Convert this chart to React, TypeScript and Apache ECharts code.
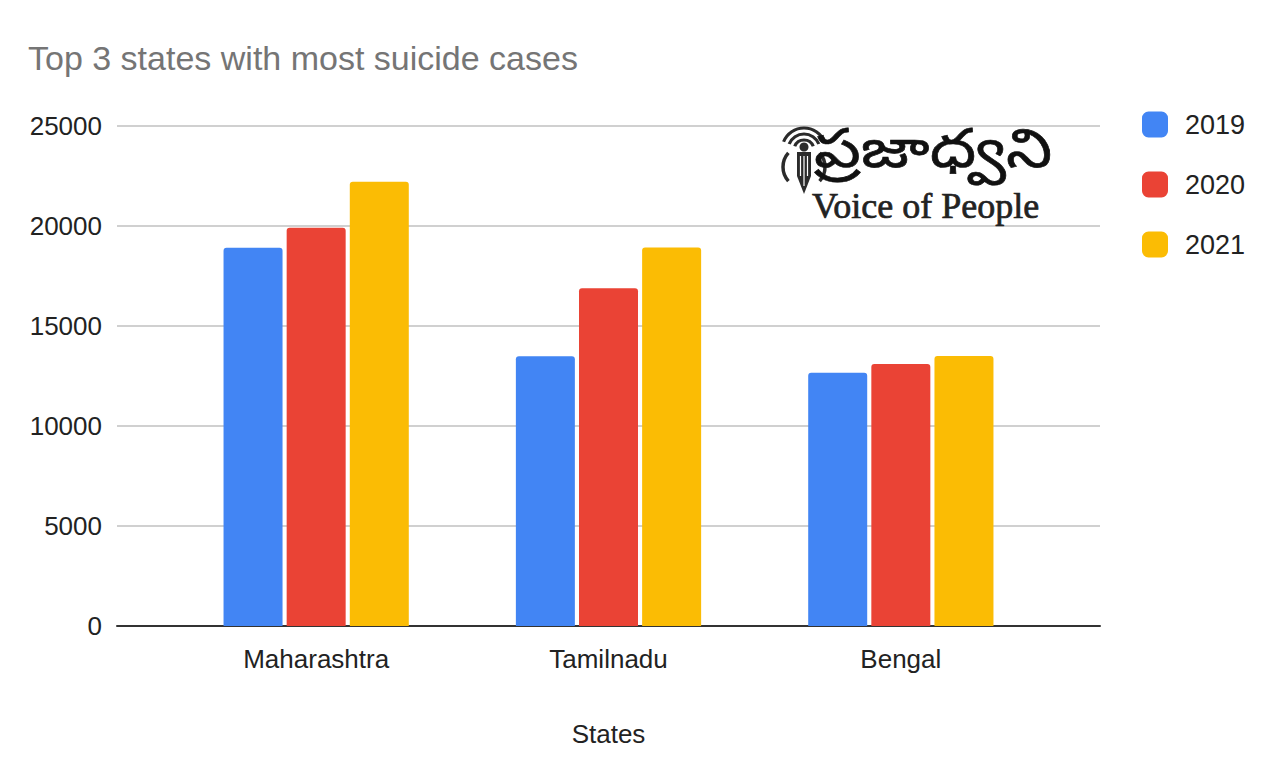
import React, { useEffect, useRef } from "react";
import * as echarts from "echarts";

const categories = ["Maharashtra", "Tamilnadu", "Bengal"];
const seriesNames = ["2019", "2020", "2021"];
const values2019 = [18916, 13493, 12665];
const values2020 = [19909, 16883, 13103];
const values2021 = [22207, 18925, 13500];
const colors = ["#4285F4", "#EA4335", "#FBBC04"];
const yTicks = [0, 5000, 10000, 15000, 20000, 25000];

export default function App() {
  const ref = useRef<HTMLDivElement>(null);
  useEffect(() => {
    if (!ref.current) return;
    const chart = echarts.init(ref.current, null, { renderer: "svg" });
    const font = "'Liberation Sans', Arial, sans-serif";
    const rad = (d: number) => (d * Math.PI) / 180;
    const dataSets = [values2019, values2020, values2021];
    chart.setOption({
      animation: false,
      backgroundColor: "#ffffff",
      title: {
        text: "Top 3 states with most suicide cases",
        left: 23,
        top: 36,
        textStyle: { color: "#757575", fontSize: 34, fontWeight: "normal", fontFamily: font },
      },
      legend: {
        orient: "vertical",
        left: 1137,
        top: 106,
        itemWidth: 26,
        itemHeight: 26,
        itemGap: 33,
        icon: "roundRect",
        data: seriesNames,
        textStyle: { color: "#222", fontSize: 27, fontFamily: font, padding: [5, 0, 0, 12] },
      },
      grid: [
        { left: 117, top: 126, width: 983, height: 500 },
        { left: 170, top: 126, width: 877, height: 500 },
      ],
      xAxis: [
        {
          type: "category",
          gridIndex: 0,
          data: [""],
          axisLine: { lineStyle: { color: "#333", width: 2 } },
          axisTick: { show: false },
          axisLabel: { show: false },
          z: 1,
        },
        {
          type: "category",
          gridIndex: 1,
          data: categories,
          axisLine: { show: false },
          axisTick: { show: false },
          axisLabel: { color: "#222", fontSize: 26, fontFamily: font, margin: 20 },
          name: "States",
          nameLocation: "middle",
          nameGap: 95,
          nameTextStyle: { color: "#222", fontSize: 26, fontFamily: font },
        },
      ],
      yAxis: [
        {
          type: "value",
          gridIndex: 0,
          min: yTicks[0],
          max: yTicks[yTicks.length - 1],
          interval: 5000,
          axisLine: { show: false },
          axisTick: { show: false },
          axisLabel: {
            color: "#222",
            fontSize: 26,
            fontFamily: font,
            margin: 15,
            formatter: (v: number) => String(v),
          },
          splitLine: { lineStyle: { color: "#d0d0d0", width: 2 } },
        },
        {
          type: "value",
          gridIndex: 1,
          min: yTicks[0],
          max: yTicks[yTicks.length - 1],
          interval: 5000,
          show: false,
          splitLine: { show: false },
        },
      ],
      series: seriesNames.map((n, i) => ({
        name: n,
        type: "bar",
        xAxisIndex: 1,
        yAxisIndex: 1,
        data: dataSets[i],
        barWidth: 59,
        barGap: "7%",
        itemStyle: { color: colors[i], borderRadius: [3, 3, 0, 0] },
        z: 3,
      })),
      color: colors,
      graphic: [
        ...[22, 16, 10].map((r) => ({
          type: "arc",
          shape: { cx: 804, cy: 150, r, startAngle: rad(-158), endAngle: rad(-22), clockwise: true },
          style: { stroke: "#2b2b2b", lineWidth: 3.2, fill: "none" },
          z: 10,
        })),
        {
          type: "arc",
          shape: { cx: 804, cy: 167, r: 21, startAngle: rad(138), endAngle: rad(222), clockwise: true },
          style: { stroke: "#2b2b2b", lineWidth: 3.5, fill: "none" },
          z: 10,
        },
        {
          type: "arc",
          shape: { cx: 804, cy: 167, r: 21, startAngle: rad(-42), endAngle: rad(42), clockwise: true },
          style: { stroke: "#2b2b2b", lineWidth: 3.5, fill: "none" },
          z: 10,
        },
        {
          type: "circle",
          shape: { cx: 804, cy: 147, r: 4.5 },
          style: { fill: "#2b2b2b" },
          z: 10,
        },
        {
          type: "polygon",
          shape: { points: [[797, 152], [811, 152], [811, 176], [804, 194], [797, 176]] },
          style: { fill: "#2b2b2b" },
          z: 10,
        },
        ...[800.5, 804, 807.5].map((x) => ({
          type: "line",
          shape: { x1: x, y1: 156, x2: x, y2: x === 804 ? 186 : 176 },
          style: { stroke: "#ffffff", lineWidth: 1.2 },
          z: 11,
        })),
        {
          type: "text",
          x: 814,
          y: 157,
          scaleX: 1.22,
          style: {
            x: 0,
            y: 0,
            text: "ప్రజాధ్వని",
            font: "54px 'Noto Sans Telugu', 'Noto Serif Telugu', 'Noto Sans', sans-serif",
            lineHeight: 36,
            fill: "#111",
            stroke: "#111",
            lineWidth: 0.6,
            textVerticalAlign: "middle",
          },
          z: 10,
        },
        {
          type: "text",
          style: {
            x: 812,
            y: 206,
            text: "Voice of People",
            font: "36px 'Liberation Serif', 'Times New Roman', serif",
            lineHeight: 26,
            fill: "#222",
            stroke: "#222",
            lineWidth: 0.7,
            textVerticalAlign: "middle",
          },
          z: 10,
        },
      ],
    });
    return () => chart.dispose();
  }, []);
  return (
    <div
      ref={ref}
      style={{ position: "fixed", left: 0, top: 0, width: 1280, height: 782 }}
    />
  );
}
